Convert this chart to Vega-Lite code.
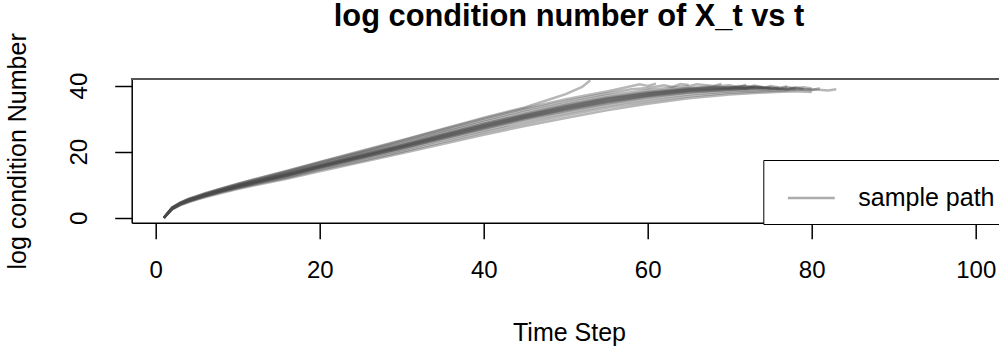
{
"$schema":"https://vega.github.io/schema/vega-lite/v6.json",
"width":867.3,"height":143.7,
"autosize":{"type":"none"},
"padding":{"left":131.7,"top":79,"right":0,"bottom":129.3},
"background":"white",
"config":{"view":{"stroke":null},"font":"Liberation Sans"},
"title":{"text":"log condition number of X_t vs t","fontSize":30.8,"fontWeight":"bold","font":"Liberation Sans","color":"black","anchor":"middle","frame":"group","dx":3.7,"dy":38,"baseline":"alphabetic","offset":14},
"data":{"values":[
{"p":1,"t":1,"v":0},{"p":1,"t":2,"v":3.1},{"p":1,"t":3,"v":4.6},{"p":1,"t":4,"v":5.7},{"p":1,"t":5,"v":6.5},{"p":1,"t":6,"v":7.4},{"p":1,"t":8,"v":8.9},{"p":1,"t":10,"v":10.3},{"p":1,"t":13,"v":12.3},{"p":1,"t":16,"v":14.2},{"p":1,"t":20,"v":16.9},{"p":1,"t":25,"v":20.2},{"p":1,"t":30,"v":23.5},{"p":1,"t":35,"v":26.9},{"p":1,"t":40,"v":30.3},{"p":1,"t":45,"v":33.4},{"p":1,"t":48,"v":35.8},{"p":1,"t":50,"v":37.4},{"p":1,"t":52,"v":39.6},{"p":1,"t":53,"v":41.6},
{"p":2,"t":1,"v":0},{"p":2,"t":2,"v":3.1},{"p":2,"t":3,"v":4.6},{"p":2,"t":4,"v":5.7},{"p":2,"t":5,"v":6.5},{"p":2,"t":6,"v":7.3},{"p":2,"t":8,"v":8.8},{"p":2,"t":10,"v":10.2},{"p":2,"t":13,"v":12.2},{"p":2,"t":16,"v":14.1},{"p":2,"t":20,"v":16.8},{"p":2,"t":25,"v":20.0},{"p":2,"t":30,"v":23.3},{"p":2,"t":35,"v":26.7},{"p":2,"t":40,"v":30.0},{"p":2,"t":45,"v":33.1},{"p":2,"t":50,"v":35.9},{"p":2,"t":55,"v":38.2},{"p":2,"t":57,"v":39.3},{"p":2,"t":59,"v":40.4},{"p":2,"t":60,"v":39.9},{"p":2,"t":61,"v":40.6},
{"p":3,"t":1,"v":0},{"p":3,"t":2,"v":3.0},{"p":3,"t":3,"v":4.5},{"p":3,"t":4,"v":5.6},{"p":3,"t":5,"v":6.4},{"p":3,"t":6,"v":7.2},{"p":3,"t":8,"v":8.7},{"p":3,"t":10,"v":10.1},{"p":3,"t":13,"v":12.0},{"p":3,"t":16,"v":13.9},{"p":3,"t":20,"v":16.5},{"p":3,"t":25,"v":19.7},{"p":3,"t":30,"v":22.9},{"p":3,"t":35,"v":26.2},{"p":3,"t":40,"v":29.5},{"p":3,"t":45,"v":32.6},{"p":3,"t":50,"v":35.3},{"p":3,"t":55,"v":37.6},{"p":3,"t":58,"v":38.9},{"p":3,"t":60,"v":39.3},{"p":3,"t":62,"v":40.1},{"p":3,"t":63,"v":39.6},{"p":3,"t":64,"v":40.5},{"p":3,"t":65,"v":40.2},
{"p":4,"t":1,"v":0},{"p":4,"t":2,"v":3.0},{"p":4,"t":3,"v":4.4},{"p":4,"t":4,"v":5.5},{"p":4,"t":5,"v":6.3},{"p":4,"t":6,"v":7.1},{"p":4,"t":8,"v":8.6},{"p":4,"t":10,"v":9.9},{"p":4,"t":13,"v":11.8},{"p":4,"t":16,"v":13.6},{"p":4,"t":20,"v":16.2},{"p":4,"t":25,"v":19.4},{"p":4,"t":30,"v":22.5},{"p":4,"t":35,"v":25.8},{"p":4,"t":40,"v":29.0},{"p":4,"t":45,"v":32.0},{"p":4,"t":50,"v":34.7},{"p":4,"t":55,"v":37.0},{"p":4,"t":60,"v":38.7},{"p":4,"t":63,"v":39.4},{"p":4,"t":65,"v":39.8},{"p":4,"t":66,"v":40.4},{"p":4,"t":68,"v":39.9},{"p":4,"t":69,"v":40.5},
{"p":5,"t":1,"v":0},{"p":5,"t":2,"v":2.9},{"p":5,"t":3,"v":4.3},{"p":5,"t":4,"v":5.4},{"p":5,"t":5,"v":6.2},{"p":5,"t":6,"v":7.0},{"p":5,"t":8,"v":8.4},{"p":5,"t":10,"v":9.8},{"p":5,"t":13,"v":11.6},{"p":5,"t":16,"v":13.4},{"p":5,"t":20,"v":15.9},{"p":5,"t":25,"v":19.0},{"p":5,"t":30,"v":22.1},{"p":5,"t":35,"v":25.3},{"p":5,"t":40,"v":28.5},{"p":5,"t":45,"v":31.4},{"p":5,"t":50,"v":34.1},{"p":5,"t":55,"v":36.4},{"p":5,"t":60,"v":38.1},{"p":5,"t":65,"v":39.3},{"p":5,"t":68,"v":39.7},{"p":5,"t":70,"v":40.1},{"p":5,"t":71,"v":39.5},{"p":5,"t":72,"v":40.3},
{"p":6,"t":1,"v":0},{"p":6,"t":2,"v":2.9},{"p":6,"t":3,"v":4.3},{"p":6,"t":4,"v":5.3},{"p":6,"t":5,"v":6.1},{"p":6,"t":6,"v":6.9},{"p":6,"t":8,"v":8.3},{"p":6,"t":10,"v":9.6},{"p":6,"t":13,"v":11.5},{"p":6,"t":16,"v":13.2},{"p":6,"t":20,"v":15.7},{"p":6,"t":25,"v":18.8},{"p":6,"t":30,"v":21.8},{"p":6,"t":35,"v":25.0},{"p":6,"t":40,"v":28.1},{"p":6,"t":45,"v":31.0},{"p":6,"t":50,"v":33.7},{"p":6,"t":55,"v":36.0},{"p":6,"t":60,"v":37.7},{"p":6,"t":65,"v":39.0},{"p":6,"t":70,"v":39.6},{"p":6,"t":72,"v":39.3},{"p":6,"t":73,"v":40.0},{"p":6,"t":74,"v":39.5},
{"p":7,"t":1,"v":0},{"p":7,"t":2,"v":2.8},{"p":7,"t":3,"v":4.2},{"p":7,"t":4,"v":5.2},{"p":7,"t":5,"v":6.0},{"p":7,"t":6,"v":6.8},{"p":7,"t":8,"v":8.2},{"p":7,"t":10,"v":9.5},{"p":7,"t":13,"v":11.3},{"p":7,"t":16,"v":13.0},{"p":7,"t":20,"v":15.5},{"p":7,"t":25,"v":18.5},{"p":7,"t":30,"v":21.5},{"p":7,"t":35,"v":24.6},{"p":7,"t":40,"v":27.7},{"p":7,"t":45,"v":30.6},{"p":7,"t":50,"v":33.2},{"p":7,"t":55,"v":35.5},{"p":7,"t":60,"v":37.3},{"p":7,"t":65,"v":38.6},{"p":7,"t":70,"v":39.3},{"p":7,"t":72,"v":39.8},{"p":7,"t":74,"v":39.2},{"p":7,"t":75,"v":39.9},{"p":7,"t":76,"v":39.4},
{"p":8,"t":1,"v":0},{"p":8,"t":2,"v":2.8},{"p":8,"t":3,"v":4.2},{"p":8,"t":4,"v":5.1},{"p":8,"t":5,"v":5.9},{"p":8,"t":6,"v":6.7},{"p":8,"t":8,"v":8.1},{"p":8,"t":10,"v":9.4},{"p":8,"t":13,"v":11.2},{"p":8,"t":16,"v":12.8},{"p":8,"t":20,"v":15.3},{"p":8,"t":25,"v":18.3},{"p":8,"t":30,"v":21.2},{"p":8,"t":35,"v":24.3},{"p":8,"t":40,"v":27.3},{"p":8,"t":45,"v":30.2},{"p":8,"t":50,"v":32.8},{"p":8,"t":55,"v":35.1},{"p":8,"t":60,"v":36.9},{"p":8,"t":65,"v":38.3},{"p":8,"t":70,"v":39.0},{"p":8,"t":74,"v":39.4},{"p":8,"t":76,"v":38.9},{"p":8,"t":77,"v":39.6},{"p":8,"t":78,"v":39.1},
{"p":9,"t":1,"v":0},{"p":9,"t":2,"v":2.7},{"p":9,"t":3,"v":4.1},{"p":9,"t":4,"v":5.1},{"p":9,"t":5,"v":5.9},{"p":9,"t":6,"v":6.6},{"p":9,"t":8,"v":8.0},{"p":9,"t":10,"v":9.3},{"p":9,"t":13,"v":11.0},{"p":9,"t":16,"v":12.7},{"p":9,"t":20,"v":15.1},{"p":9,"t":25,"v":18.0},{"p":9,"t":30,"v":20.9},{"p":9,"t":35,"v":23.9},{"p":9,"t":40,"v":26.9},{"p":9,"t":45,"v":29.8},{"p":9,"t":50,"v":32.3},{"p":9,"t":55,"v":34.6},{"p":9,"t":60,"v":36.5},{"p":9,"t":65,"v":37.9},{"p":9,"t":70,"v":38.7},{"p":9,"t":75,"v":39.2},{"p":9,"t":77,"v":38.8},{"p":9,"t":78,"v":39.5},{"p":9,"t":79,"v":39.0},
{"p":10,"t":1,"v":0},{"p":10,"t":2,"v":2.7},{"p":10,"t":3,"v":4.0},{"p":10,"t":4,"v":5.0},{"p":10,"t":5,"v":5.8},{"p":10,"t":6,"v":6.5},{"p":10,"t":8,"v":7.9},{"p":10,"t":10,"v":9.1},{"p":10,"t":13,"v":10.8},{"p":10,"t":16,"v":12.4},{"p":10,"t":20,"v":14.8},{"p":10,"t":25,"v":17.7},{"p":10,"t":30,"v":20.5},{"p":10,"t":35,"v":23.5},{"p":10,"t":40,"v":26.4},{"p":10,"t":45,"v":29.2},{"p":10,"t":50,"v":31.7},{"p":10,"t":55,"v":34.0},{"p":10,"t":60,"v":35.9},{"p":10,"t":65,"v":37.4},{"p":10,"t":70,"v":38.3},{"p":10,"t":75,"v":38.8},{"p":10,"t":78,"v":39.1},{"p":10,"t":80,"v":38.6},{"p":10,"t":81,"v":39.2},
{"p":11,"t":1,"v":0},{"p":11,"t":2,"v":2.6},{"p":11,"t":3,"v":3.9},{"p":11,"t":4,"v":4.8},{"p":11,"t":5,"v":5.6},{"p":11,"t":6,"v":6.4},{"p":11,"t":8,"v":7.7},{"p":11,"t":10,"v":8.9},{"p":11,"t":13,"v":10.6},{"p":11,"t":16,"v":12.1},{"p":11,"t":20,"v":14.5},{"p":11,"t":25,"v":17.2},{"p":11,"t":30,"v":20.0},{"p":11,"t":35,"v":22.9},{"p":11,"t":40,"v":25.8},{"p":11,"t":45,"v":28.5},{"p":11,"t":50,"v":31.0},{"p":11,"t":55,"v":33.3},{"p":11,"t":60,"v":35.2},{"p":11,"t":65,"v":36.8},{"p":11,"t":70,"v":37.8},{"p":11,"t":75,"v":38.4},{"p":11,"t":80,"v":38.9},{"p":11,"t":82,"v":38.5},{"p":11,"t":83,"v":38.9},
{"p":12,"t":1,"v":0},{"p":12,"t":2,"v":2.5},{"p":12,"t":3,"v":3.8},{"p":12,"t":4,"v":4.7},{"p":12,"t":5,"v":5.5},{"p":12,"t":6,"v":6.2},{"p":12,"t":8,"v":7.5},{"p":12,"t":10,"v":8.7},{"p":12,"t":13,"v":10.3},{"p":12,"t":16,"v":11.8},{"p":12,"t":20,"v":14.1},{"p":12,"t":25,"v":16.8},{"p":12,"t":30,"v":19.5},{"p":12,"t":35,"v":22.3},{"p":12,"t":40,"v":25.1},{"p":12,"t":45,"v":27.8},{"p":12,"t":50,"v":30.2},{"p":12,"t":55,"v":32.5},{"p":12,"t":60,"v":34.5},{"p":12,"t":65,"v":36.2},{"p":12,"t":70,"v":37.3},{"p":12,"t":75,"v":38.0},{"p":12,"t":78,"v":38.3},{"p":12,"t":80,"v":38.1},
{"p":13,"t":1,"v":0},{"p":13,"t":2,"v":2.9},{"p":13,"t":3,"v":4.3},{"p":13,"t":4,"v":5.3},{"p":13,"t":5,"v":6.1},{"p":13,"t":6,"v":6.9},{"p":13,"t":8,"v":8.3},{"p":13,"t":10,"v":9.7},{"p":13,"t":13,"v":11.5},{"p":13,"t":16,"v":13.3},{"p":13,"t":20,"v":15.8},{"p":13,"t":25,"v":18.9},{"p":13,"t":30,"v":21.9},{"p":13,"t":35,"v":25.1},{"p":13,"t":40,"v":28.3},{"p":13,"t":45,"v":31.2},{"p":13,"t":50,"v":33.9},{"p":13,"t":55,"v":36.2},{"p":13,"t":60,"v":37.9},{"p":13,"t":65,"v":39.1},{"p":13,"t":68,"v":39.6},{"p":13,"t":70,"v":39.2},{"p":13,"t":71,"v":39.9},{"p":13,"t":73,"v":39.5},
{"p":14,"t":1,"v":0},{"p":14,"t":2,"v":2.8},{"p":14,"t":3,"v":4.2},{"p":14,"t":4,"v":5.2},{"p":14,"t":5,"v":6.0},{"p":14,"t":6,"v":6.8},{"p":14,"t":8,"v":8.2},{"p":14,"t":10,"v":9.6},{"p":14,"t":13,"v":11.4},{"p":14,"t":16,"v":13.1},{"p":14,"t":20,"v":15.6},{"p":14,"t":25,"v":18.6},{"p":14,"t":30,"v":21.6},{"p":14,"t":35,"v":24.8},{"p":14,"t":40,"v":27.9},{"p":14,"t":45,"v":30.8},{"p":14,"t":50,"v":33.4},{"p":14,"t":55,"v":35.8},{"p":14,"t":60,"v":37.5},{"p":14,"t":65,"v":38.8},{"p":14,"t":70,"v":39.5},{"p":14,"t":72,"v":39.0},{"p":14,"t":73,"v":39.7},{"p":14,"t":75,"v":39.3},
{"p":15,"t":1,"v":0},{"p":15,"t":2,"v":2.8},{"p":15,"t":3,"v":4.2},{"p":15,"t":4,"v":5.2},{"p":15,"t":5,"v":6.0},{"p":15,"t":6,"v":6.8},{"p":15,"t":8,"v":8.2},{"p":15,"t":10,"v":9.4},{"p":15,"t":13,"v":11.2},{"p":15,"t":16,"v":12.9},{"p":15,"t":20,"v":15.4},{"p":15,"t":25,"v":18.4},{"p":15,"t":30,"v":21.4},{"p":15,"t":35,"v":24.4},{"p":15,"t":40,"v":27.5},{"p":15,"t":45,"v":30.4},{"p":15,"t":50,"v":33.0},{"p":15,"t":55,"v":35.3},{"p":15,"t":60,"v":37.1},{"p":15,"t":65,"v":38.5},{"p":15,"t":70,"v":39.1},{"p":15,"t":73,"v":39.6},{"p":15,"t":75,"v":39.0},{"p":15,"t":77,"v":39.7},
{"p":16,"t":1,"v":0},{"p":16,"t":2,"v":2.7},{"p":16,"t":3,"v":4.1},{"p":16,"t":4,"v":5.1},{"p":16,"t":5,"v":5.9},{"p":16,"t":6,"v":6.7},{"p":16,"t":8,"v":8.0},{"p":16,"t":10,"v":9.3},{"p":16,"t":13,"v":11.1},{"p":16,"t":16,"v":12.7},{"p":16,"t":20,"v":15.2},{"p":16,"t":25,"v":18.1},{"p":16,"t":30,"v":21.1},{"p":16,"t":35,"v":24.1},{"p":16,"t":40,"v":27.1},{"p":16,"t":45,"v":30.0},{"p":16,"t":50,"v":32.5},{"p":16,"t":55,"v":34.8},{"p":16,"t":60,"v":36.7},{"p":16,"t":65,"v":38.1},{"p":16,"t":70,"v":38.9},{"p":16,"t":75,"v":39.4},{"p":16,"t":77,"v":38.9},{"p":16,"t":79,"v":39.5},{"p":16,"t":80,"v":39.1}
]},
"layer":[
{"mark":{"type":"line","strokeWidth":2.5,"opacity":0.4},
 "encoding":{
  "x":{"field":"t","type":"quantitative","scale":{"domain":[-2.93,102.84],"nice":false,"zero":false},
   "axis":{"values":[0,20,40,60,80,100],"labelFontSize":24,"labelColor":"black","labelPadding":20,"labelFlush":false,"tickSize":16,"tickColor":"black","tickWidth":1.5,"domainColor":"black","domainWidth":1.5,"grid":false,"title":"Time Step","titleFontSize":25,"titleFontWeight":"normal","titleColor":"black","titleX":437.3,"titleY":117.3,"titleBaseline":"alphabetic","titleAlign":"center"}},
  "y":{"field":"v","type":"quantitative","scale":{"domain":[-1.5,42],"nice":false,"zero":false},
   "axis":{"values":[0,10,20,30,40],"labelExpr":"datum.value % 20 == 0 ? datum.label : ''","labelAngle":270,"labelFontSize":24,"labelColor":"black","labelPadding":23,"labelFlush":false,"tickSize":17,"tickColor":"black","tickWidth":1.5,"domainColor":"black","domainWidth":1.5,"grid":false,"title":"log condition Number","titleFontSize":25,"titleFontWeight":"normal","titleColor":"black","titleX":-106,"titleY":71.9,"titleAngle":270,"titleBaseline":"alphabetic","titleAlign":"center"}},
  "detail":{"field":"p","type":"nominal"},
  "color":{"datum":"sample path","type":"nominal","scale":{"range":["#4a4a4a"]},
   "legend":{"title":null,"orient":"none","legendX":631.6,"legendY":81,"padding":13,"strokeColor":"black","fillColor":"white","symbolType":"stroke","symbolSize":2200,"symbolOffset":10,"symbolStrokeWidth":2.5,"symbolOpacity":0.45,"labelFontSize":25,"labelFont":"Liberation Sans","labelColor":"black","labelOffset":22,"labelExpr":"datum.label + '\u00a0\u00a0\u00a0'"}}
 }},
{"mark":{"type":"rule","color":"#555","strokeWidth":2},"encoding":{"y":{"datum":42}}}
]
}
